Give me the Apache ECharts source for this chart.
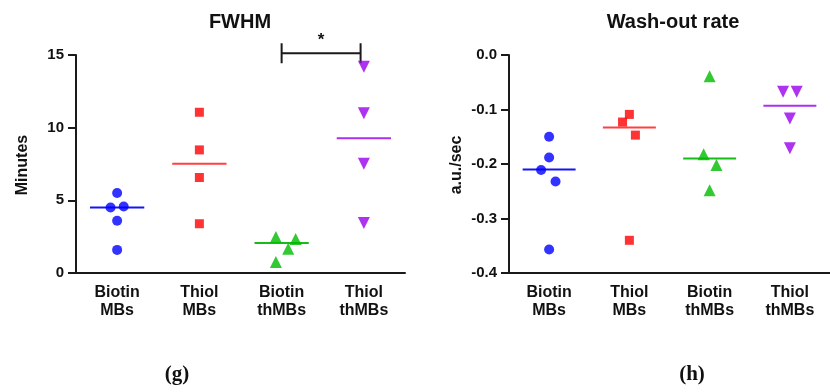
<!DOCTYPE html>
<html>
<head>
<meta charset="utf-8">
<script src="https://cdn.jsdelivr.net/npm/echarts@6.0.0/dist/echarts.min.js"></script>
<style>
  html, body { margin: 0; padding: 0; background: #fff; }
  #chart { width: 830px; height: 392px; }
</style>
</head>
<body>
<div id="chart"></div>
<script>
// groups along the x axis
const categories = ["Biotin\nMBs", "Thiol\nMBs", "Biotin\nthMBs", "Thiol\nthMBs"];

// FWHM (minutes) per group, with small horizontal jitter (in category units)
const fwhmBiotinMBs = [5.50, 4.51, 4.58, 3.59, 1.59];
const fwhmBiotinMBsDx = [0, -0.08, 0.08, 0, 0];
const fwhmThiolMBs = [11.06, 8.47, 6.57, 3.39];
const fwhmThiolMBsDx = [0, 0, 0, 0];
const fwhmBiotinThMBs = [2.47, 2.34, 1.67, 0.76];
const fwhmBiotinThMBsDx = [-0.07, 0.17, 0.08, -0.07];
const fwhmThiolThMBs = [14.2, 11.0, 7.51, 3.44];
const fwhmThiolThMBsDx = [0, 0, 0, 0];
const fwhmMedians = [4.50, 7.52, 2.06, 9.28];
const fwhmTicks = [0, 5, 10, 15];

// wash-out rate (a.u./sec)
const woBiotinMBs = [-0.150, -0.188, -0.211, -0.232, -0.357];
const woBiotinMBsDx = [0, 0, -0.1, 0.08, 0];
const woThiolMBs = [-0.109, -0.123, -0.147, -0.340];
const woThiolMBsDx = [0, -0.085, 0.075, 0];
const woBiotinThMBs = [-0.039, -0.182, -0.202, -0.248];
const woBiotinThMBsDx = [0, -0.075, 0.085, 0];
const woThiolThMBs = [-0.0675, -0.0675, -0.1166, -0.171];
const woThiolThMBsDx = [-0.085, 0.085, 0, 0];
const woMedians = [-0.210, -0.133, -0.190, -0.093];

// significance bracket on FWHM: between groups 2 and 3, at y = 15.12
const sigPairs = [[2, 3, 15.12]];

const colors = ["#0000ff", "#ff0000", "#00bb00", "#9900ee"];
const medianColors = ["#1515f0", "#ff4040", "#18bb18", "#aa30f0"];
const symbols = ["circle", "rect", "triangle", "triangle"];
const symbolSizes = [10, 9, 12, 12];
const symbolRotates = [0, 0, 0, 180];

const FONT = '"Liberation Sans", Arial, sans-serif';
const AXIS = "#1a1a1a";

const chart = echarts.init(document.getElementById("chart"), null, { renderer: "canvas" });

function pts(vals, dx, idx) {
  return vals.map((v, i) => [idx + dx[i], v]);
}

function scatter(name, data, idx, xi, yi) {
  return {
    name: name,
    type: "scatter",
    xAxisIndex: xi,
    yAxisIndex: yi,
    data: data,
    symbol: symbols[idx],
    symbolSize: symbolSizes[idx],
    symbolRotate: symbolRotates[idx],
    itemStyle: { color: colors[idx] },
    z: 3,
  };
}

function medianSeries(meds, xi, yi) {
  return {
    type: "custom",
    xAxisIndex: xi,
    yAxisIndex: yi,
    data: meds.map((m, i) => [i, m]),
    renderItem: (params, api) => {
      const x = api.value(0);
      const y = api.value(1);
      const l = api.coord([x - 0.33, y]);
      const r = api.coord([x + 0.33, y]);
      return {
        type: "line",
        shape: { x1: l[0], y1: l[1], x2: r[0], y2: r[1] },
        style: { stroke: medianColors[params.dataIndex], lineWidth: 2 },
      };
    },
    z: 2,
  };
}

function catAxis(gi) {
  return {
    type: "category",
    gridIndex: gi,
    data: categories,
    axisLine: { onZero: false, lineStyle: { color: AXIS, width: 2 } },
    axisTick: { alignWithLabel: true, length: 8, lineStyle: { color: AXIS, width: 2 } },
    axisLabel: {
      color: "#111",
      fontFamily: FONT,
      fontWeight: "bold",
      fontSize: 16,
      lineHeight: 18,
      margin: 11,
      interval: 0,
    },
    splitLine: { show: false },
  };
}

function valXAxis(gi) {
  return { type: "value", gridIndex: gi, min: -0.5, max: 3.5, show: false };
}

function yAx(gi, min, max, interval, fmt) {
  return {
    type: "value",
    gridIndex: gi,
    min: min,
    max: max,
    interval: interval,
    axisLine: { show: true, onZero: false, lineStyle: { color: AXIS, width: 2 } },
    axisTick: { show: true, length: 8, lineStyle: { color: AXIS, width: 2 } },
    axisLabel: {
      color: "#111",
      fontFamily: FONT,
      fontWeight: "bold",
      fontSize: 15,
      margin: 12,
      formatter: fmt,
    },
    splitLine: { show: false },
  };
}

const option = {
  animation: false,
  backgroundColor: "#fff",
  grid: [
    { left: 76, top: 55, width: 329, height: 218 },
    { left: 509, top: 55, width: 325, height: 218 },
  ],
  xAxis: [catAxis(0), valXAxis(0), catAxis(1), valXAxis(1)],
  yAxis: [
    yAx(0, fwhmTicks[0], fwhmTicks[fwhmTicks.length - 1], 5, (v) => String(v)),
    yAx(1, -0.4, 0, 0.1, (v) => v.toFixed(1)),
  ],
  series: [
    scatter("Biotin MBs", pts(fwhmBiotinMBs, fwhmBiotinMBsDx, 0), 0, 1, 0),
    scatter("Thiol MBs", pts(fwhmThiolMBs, fwhmThiolMBsDx, 1), 1, 1, 0),
    scatter("Biotin thMBs", pts(fwhmBiotinThMBs, fwhmBiotinThMBsDx, 2), 2, 1, 0),
    scatter("Thiol thMBs", pts(fwhmThiolThMBs, fwhmThiolThMBsDx, 3), 3, 1, 0),
    medianSeries(fwhmMedians, 1, 0),
    scatter("Biotin MBs", pts(woBiotinMBs, woBiotinMBsDx, 0), 0, 3, 1),
    scatter("Thiol MBs", pts(woThiolMBs, woThiolMBsDx, 1), 1, 3, 1),
    scatter("Biotin thMBs", pts(woBiotinThMBs, woBiotinThMBsDx, 2), 2, 3, 1),
    scatter("Thiol thMBs", pts(woThiolThMBs, woThiolThMBsDx, 3), 3, 3, 1),
    medianSeries(woMedians, 3, 1),
    {
      // significance bracket with star
      type: "custom",
      xAxisIndex: 1,
      yAxisIndex: 0,
      clip: false,
      data: sigPairs,
      renderItem: (params, api) => {
        const a = api.coord([api.value(0), api.value(2)]);
        const b = api.coord([api.value(1) - 0.04, api.value(2)]);
        const st = { stroke: AXIS, lineWidth: 2 };
        return {
          type: "group",
          children: [
            { type: "line", shape: { x1: a[0], y1: a[1], x2: b[0], y2: b[1] }, style: st },
            { type: "line", shape: { x1: a[0], y1: a[1] - 10, x2: a[0], y2: a[1] + 10 }, style: st },
            { type: "line", shape: { x1: b[0], y1: b[1] - 10, x2: b[0], y2: b[1] + 10 }, style: st },
            {
              type: "text",
              x: (a[0] + b[0]) / 2,
              y: a[1] - 4,
              style: {
                text: "*",
                font: "bold 17px " + FONT,
                fill: "#111",
                align: "center",
                verticalAlign: "bottom",
              },
            },
          ],
        };
      },
    },
  ],
  graphic: [
    {
      type: "text", x: 240, y: 22,
      style: { text: "FWHM", font: "bold 20px " + FONT, fill: "#111", align: "center", verticalAlign: "middle" },
    },
    {
      type: "text", x: 673, y: 22,
      style: { text: "Wash-out rate", font: "bold 20px " + FONT, fill: "#111", align: "center", verticalAlign: "middle" },
    },
    {
      type: "text", x: 23, y: 165, rotation: Math.PI / 2,
      style: { text: "Minutes", font: "bold 16px " + FONT, fill: "#111", align: "center", verticalAlign: "middle" },
    },
    {
      type: "text", x: 457, y: 165, rotation: Math.PI / 2,
      style: { text: "a.u./sec", font: "bold 16px " + FONT, fill: "#111", align: "center", verticalAlign: "middle" },
    },
    {
      type: "text", x: 177, y: 375,
      style: { text: "(g)", font: 'bold 21px "Liberation Serif", "Times New Roman", serif', fill: "#111", align: "center", verticalAlign: "middle" },
    },
    {
      type: "text", x: 692, y: 375,
      style: { text: "(h)", font: 'bold 21px "Liberation Serif", "Times New Roman", serif', fill: "#111", align: "center", verticalAlign: "middle" },
    },
  ],
};

chart.setOption(option);
</script>
</body>
</html>
